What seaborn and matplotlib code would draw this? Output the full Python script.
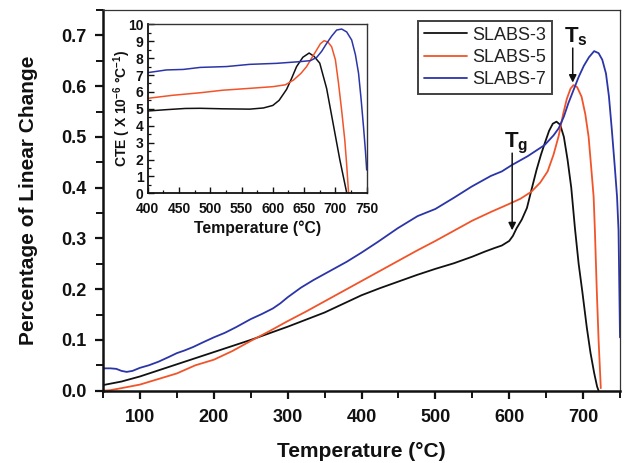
import matplotlib
matplotlib.use("Agg")
import matplotlib.pyplot as plt
from matplotlib.ticker import MultipleLocator, FormatStrFormatter
import pandas as pd
import seaborn as sns

# Percentage of linear change vs temperature (dilatometry)
temp_s3 = [50, 75, 100, 125, 150, 175, 200, 225, 250, 275, 300, 325, 350, 375, 400,
           425, 450, 475, 500, 525, 550, 567, 580, 590, 600, 605, 610, 617, 624, 630,
           637, 643, 648, 654, 659, 664, 669, 674, 679, 684, 689, 694, 699, 705, 710,
           715, 719, 721]
lin_s3 = [0.011, 0.018, 0.028, 0.040, 0.052, 0.064, 0.076, 0.088, 0.100, 0.113, 0.126,
          0.140, 0.154, 0.171, 0.188, 0.202, 0.215, 0.228, 0.240, 0.251, 0.264, 0.274,
          0.281, 0.286, 0.295, 0.305, 0.320, 0.337, 0.360, 0.395, 0.435, 0.465, 0.487,
          0.512, 0.526, 0.530, 0.524, 0.500, 0.455, 0.400, 0.320, 0.250, 0.195, 0.125,
          0.075, 0.035, 0.008, 0.0]

temp_s5 = [50, 60, 75, 100, 125, 150, 175, 200, 225, 250, 275, 300, 325, 350, 375, 400,
           425, 450, 475, 500, 525, 550, 575, 600, 615, 630, 642, 652, 660, 667, 673,
           678, 683, 687, 692, 698, 703, 707.5, 711, 714.3, 716, 718.5, 721, 724]
lin_s5 = [0.0, 0.001, 0.005, 0.012, 0.023, 0.034, 0.050, 0.061, 0.078, 0.098, 0.117,
          0.137, 0.156, 0.176, 0.196, 0.216, 0.236, 0.256, 0.276, 0.295, 0.315, 0.335,
          0.352, 0.368, 0.378, 0.392, 0.410, 0.432, 0.465, 0.502, 0.545, 0.575, 0.595,
          0.602, 0.598, 0.579, 0.545, 0.500, 0.440, 0.382, 0.316, 0.200, 0.100, 0.005]

temp_s7 = [50, 60, 68, 75, 82, 90, 100, 112, 125, 140, 150, 160, 172, 185, 200, 215, 230,
           240, 250, 265, 280, 290, 300, 318, 335, 350, 365, 380, 400, 422, 449, 476, 500,
           525, 549, 575, 590, 603, 625, 648, 660, 667, 674, 680, 687, 694, 701, 708, 715,
           721, 726, 731, 735, 739, 743, 746, 748, 750]
lin_s7 = [0.044, 0.044, 0.043, 0.039, 0.037, 0.039, 0.045, 0.050, 0.057, 0.067, 0.074,
          0.079, 0.086, 0.095, 0.105, 0.114, 0.125, 0.133, 0.141, 0.151, 0.162, 0.172,
          0.184, 0.203, 0.218, 0.230, 0.242, 0.254, 0.272, 0.293, 0.320, 0.344, 0.358,
          0.380, 0.402, 0.423, 0.432, 0.444, 0.462, 0.484, 0.503, 0.517, 0.540, 0.566,
          0.592, 0.618, 0.640, 0.657, 0.669, 0.665, 0.652, 0.625, 0.580, 0.513, 0.440,
          0.382, 0.316, 0.105]

# Coefficient of thermal expansion (x 10^-6 /°C), 400-750 °C
cte_temp_s3 = [400, 430, 460, 484, 520, 563, 585, 600, 610, 622, 630, 638, 648, 658,
               666, 675, 686, 697, 707, 718]
cte_s3 = [4.87, 4.95, 5.02, 5.03, 5.0, 4.98, 5.05, 5.2, 5.5, 6.15, 6.8, 7.5, 8.05, 8.3,
          8.1, 7.7, 6.2, 4.0, 2.0, 0.04]

cte_temp_s5 = [400, 440, 484, 520, 563, 600, 620, 633, 645, 654, 662, 670, 676, 682,
               688, 694, 700, 705, 710, 715, 718, 721]
cte_s5 = [5.62, 5.8, 5.95, 6.1, 6.21, 6.31, 6.42, 6.7, 7.1, 7.5, 8.0, 8.48, 8.85, 9.03,
          8.95, 8.67, 7.9, 6.5, 4.9, 3.15, 1.7, 0.04]

cte_temp_s7 = [400, 430, 457, 484, 526, 563, 606, 643, 660, 670, 678, 686, 694, 702,
               710, 718, 726, 732, 737, 741, 745, 748, 750]
cte_s7 = [7.14, 7.3, 7.33, 7.45, 7.5, 7.63, 7.69, 7.79, 7.85, 8.04, 8.4, 8.87, 9.3,
          9.66, 9.72, 9.55, 9.07, 8.2, 7.1, 5.6, 3.9, 2.5, 1.38]

sample_names = ["SLABS-3", "SLABS-5", "SLABS-7"]
sample_colors = ["#111111", "#F2542A", "#2B35A8"]

sns.set_style("ticks")
plt.rcParams["font.family"] = ["Liberation Sans", "DejaVu Sans"]
plt.rcParams["mathtext.fontset"] = "custom"
plt.rcParams["mathtext.rm"] = "Liberation Sans"
plt.rcParams["mathtext.bf"] = "Liberation Sans:bold"
plt.rcParams["mathtext.it"] = "Liberation Sans:italic"
plt.rcParams["mathtext.default"] = "bf"

fig = plt.figure(figsize=(6.25, 4.63), dpi=100)
ax = fig.add_axes([0.1648, 0.1562, 0.8272, 0.8222])

main_sets = [(temp_s3, lin_s3), (temp_s5, lin_s5), (temp_s7, lin_s7)]
for (t, v), name, col in zip(main_sets, sample_names, sample_colors):
    df = pd.DataFrame({"Temperature": t, "Change": v})
    sns.lineplot(data=df, x="Temperature", y="Change", ax=ax, color=col, lw=1.3,
                 sort=False, estimator=None, label=name)

ax.set_xlim(50, 750)
ax.set_ylim(0, 0.75)
ax.xaxis.set_major_locator(MultipleLocator(100))
ax.xaxis.set_minor_locator(MultipleLocator(50))
ax.yaxis.set_major_locator(MultipleLocator(0.1))
ax.yaxis.set_minor_locator(MultipleLocator(0.05))
ax.yaxis.set_major_formatter(FormatStrFormatter("%.1f"))
ax.tick_params(which="major", direction="out", length=6, width=1.6, labelsize=13,
               colors="#111111")
ax.tick_params(axis="x", which="major", pad=7)
ax.tick_params(axis="y", which="major", pad=6)
ax.tick_params(which="minor", direction="out", length=5, width=1.4, colors="#111111")
for lab in ax.get_xticklabels() + ax.get_yticklabels():
    lab.set_fontweight("bold")
for side in ["left", "bottom"]:
    ax.spines[side].set_linewidth(1.8)
    ax.spines[side].set_color("#111111")
for side in ["top", "right"]:
    ax.spines[side].set_linewidth(0.9)
    ax.spines[side].set_color("#333333")

ax.set_xlabel("Temperature (°C)", fontsize=15, fontweight="bold", color="#111111")
ax.set_ylabel("Percentage of Linear Change", fontsize=15, fontweight="bold",
              color="#111111")
ax.xaxis.set_label_coords(0.5, -0.135)
ax.yaxis.set_label_coords(-0.125, 0.5)

leg = ax.legend(loc="upper right", bbox_to_anchor=(0.8685, 0.971), fontsize=13,
                frameon=True, fancybox=False, handlelength=2.4, handletextpad=0.3,
                labelspacing=0.28, borderpad=0.32, borderaxespad=0.0)
leg.get_frame().set_edgecolor("#111111")
leg.get_frame().set_linewidth(1.4)
for txt in leg.get_texts():
    txt.set_color("#222222")

# Softening and glass transition markers
arrow_kw = dict(arrowstyle="-|>", color="#111111", lw=1.1, mutation_scale=11,
                shrinkA=0, shrinkB=0)
ax.annotate("", xy=(686, 0.607), xytext=(686, 0.675), arrowprops=arrow_kw)
ax.annotate("", xy=(604, 0.316), xytext=(604, 0.468), arrowprops=arrow_kw)
ax.text(690, 0.686, r"$T_s$", ha="center", va="baseline", fontsize=16, color="#111111")
ax.text(609, 0.480, r"$T_g$", ha="center", va="baseline", fontsize=16, color="#111111")

# Inset: CTE curves
ax_in = fig.add_axes([0.2363, 0.5825, 0.3504, 0.365])
inset_sets = [(cte_temp_s3, cte_s3), (cte_temp_s5, cte_s5), (cte_temp_s7, cte_s7)]
for (t, v), col in zip(inset_sets, sample_colors):
    df = pd.DataFrame({"Temperature": t, "CTE": v})
    sns.lineplot(data=df, x="Temperature", y="CTE", ax=ax_in, color=col, lw=1.1,
                 sort=False, estimator=None, legend=False)
ax_in.set_xlim(400, 750)
ax_in.set_ylim(0, 10)
ax_in.xaxis.set_major_locator(MultipleLocator(50))
ax_in.xaxis.set_minor_locator(MultipleLocator(25))
ax_in.yaxis.set_major_locator(MultipleLocator(1))
ax_in.yaxis.set_minor_locator(MultipleLocator(0.5))
ax_in.tick_params(which="major", direction="in", length=4, width=1.0, labelsize=10,
                  pad=3, colors="#111111")
ax_in.tick_params(axis="x", which="major", pad=6.5)
ax_in.tick_params(which="minor", direction="in", length=2.5, width=0.9,
                  colors="#111111")
for lab in ax_in.get_xticklabels() + ax_in.get_yticklabels():
    lab.set_fontweight("bold")
for side in ["left", "bottom"]:
    ax_in.spines[side].set_linewidth(1.3)
    ax_in.spines[side].set_color("#111111")
for side in ["top", "right"]:
    ax_in.spines[side].set_linewidth(1.0)
    ax_in.spines[side].set_color("#333333")
ax_in.set_xlabel("Temperature (°C)", fontsize=11.3, fontweight="bold", color="#111111")
ax_in.set_ylabel("CTE ( X 10$^{-6}$ °C$^{-1}$)", fontsize=10, fontweight="bold",
                 color="#111111")
ax_in.xaxis.set_label_coords(0.5, -0.16)
ax_in.yaxis.set_label_coords(-0.065, 0.5)

fig.savefig("out.png", dpi=100)
